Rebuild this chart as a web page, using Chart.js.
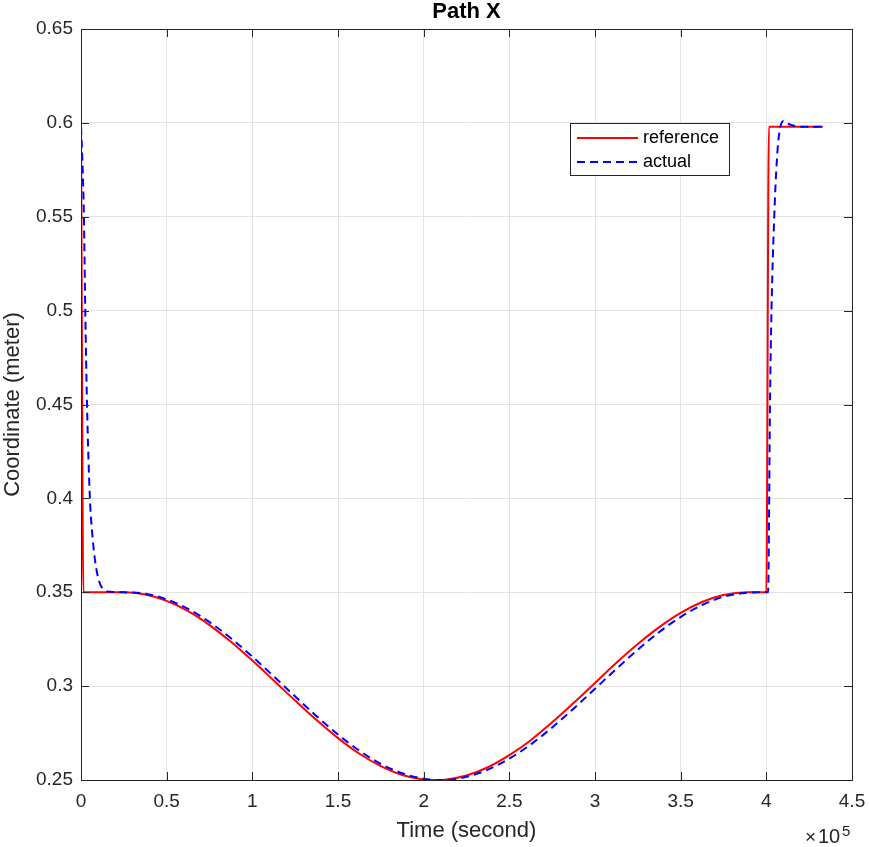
<!DOCTYPE html>
<html>
<head>
<meta charset="utf-8">
<title>Path X</title>
<script src="https://cdn.jsdelivr.net/npm/chart.js@4.4.1/dist/chart.umd.min.js"></script>
<style>
  html, body { margin: 0; padding: 0; background: #fff; }
  #wrap { width: 869px; height: 847px; position: relative; }
</style>
</head>
<body>
<div id="wrap"><canvas id="pathChart"></canvas></div>
<script>
// Reference path (time in seconds, x coordinate in meters)
const refTime = [0, 1400, 15000, 25000, 37500, 50000, 62500, 75000, 87500, 100000,
    112500, 125000, 137500, 150000, 162500, 175000, 187500, 200000, 207000, 212500,
    225000, 237500, 250000, 262500, 275000, 287500, 300000, 312500, 325000, 337500,
    350000, 362500, 375000, 389000, 400000, 401500, 433000];
const refValue = [0.598, 0.35, 0.35, 0.35, 0.3488, 0.3454, 0.3399, 0.3325, 0.3236, 0.3136,
    0.3030, 0.2923, 0.2819, 0.2723, 0.2640, 0.2574, 0.2527, 0.2503, 0.25, 0.2502,
    0.2524, 0.2568, 0.2632, 0.2712, 0.2807, 0.2910, 0.3017, 0.3124, 0.3224, 0.3314,
    0.3390, 0.3448, 0.3485, 0.35, 0.35, 0.598, 0.598];

// Actual path followed
const actTime = [0, 800, 1700, 2500, 3500, 5200, 6400, 8200, 10500, 14000,
    18000, 25000, 37500, 50000, 62500, 75000, 87500, 100000, 112500, 125000,
    137500, 150000, 162500, 175000, 187500, 200000, 210000, 212500, 225000, 237500,
    250000, 262500, 275000, 287500, 300000, 312500, 325000, 337500, 350000, 362500,
    375000, 387500, 400000, 401000, 402200, 403000, 405000, 406500, 408000, 410000,
    414000, 420000, 433000];
const actValue = [0.598, 0.58, 0.55, 0.5, 0.45, 0.4, 0.383, 0.367, 0.356, 0.351,
    0.3502, 0.35, 0.3492, 0.3462, 0.3411, 0.3341, 0.3255, 0.3157, 0.3052, 0.2945,
    0.2840, 0.2742, 0.2656, 0.2586, 0.2536, 0.2507, 0.25, 0.25, 0.2517, 0.2555,
    0.2614, 0.2689, 0.2780, 0.2880, 0.2986, 0.3092, 0.3194, 0.3288, 0.3368, 0.3432,
    0.3476, 0.3496, 0.35, 0.35, 0.455, 0.5, 0.559, 0.585, 0.597, 0.601,
    0.599, 0.598, 0.598];

// Axis ticks
const xTicks = [0, 50000, 100000, 150000, 200000, 250000, 300000, 350000, 400000, 450000];
const xTickLabels = ['0', '0.5', '1', '1.5', '2', '2.5', '3', '3.5', '4', '4.5'];
const yTicks = [0.25, 0.3, 0.35, 0.4, 0.45, 0.5, 0.55, 0.6, 0.65];
const yTickLabels = ['0.25', '0.3', '0.35', '0.4', '0.45', '0.5', '0.55', '0.6', '0.65'];

const FONT = "'Liberation Sans', Arial, Helvetica, sans-serif";
const AXIS_COLOR = '#262626';
const GRID_COLOR = '#e3e3e3';

function toPoints(times, values) {
    return times.map((t, i) => ({ x: t, y: values[i] }));
}

// Box, inside tick marks, title, legend and exponent label
const matlabAxes = {
    id: 'matlabAxes',
    afterDraw(chart) {
        const ctx = chart.ctx;
        const area = chart.chartArea;
        const xs = chart.scales.x;
        const ys = chart.scales.y;
        const tickLen = 8;

        ctx.save();
        ctx.strokeStyle = AXIS_COLOR;
        ctx.lineWidth = 1;
        ctx.beginPath();
        xTicks.forEach(v => {
            const px = Math.round(xs.getPixelForValue(v)) + 0.5;
            ctx.moveTo(px, area.bottom); ctx.lineTo(px, area.bottom - tickLen);
            ctx.moveTo(px, area.top); ctx.lineTo(px, area.top + tickLen);
        });
        yTicks.forEach(v => {
            const py = Math.round(ys.getPixelForValue(v)) + 0.5;
            ctx.moveTo(area.left, py); ctx.lineTo(area.left + tickLen, py);
            ctx.moveTo(area.right, py); ctx.lineTo(area.right - tickLen, py);
        });
        ctx.stroke();
        ctx.strokeRect(Math.round(area.left) + 0.5, Math.round(area.top) + 0.5,
            Math.round(area.right - area.left), Math.round(area.bottom - area.top));

        // title
        ctx.fillStyle = '#000';
        ctx.font = 'bold 22px ' + FONT;
        ctx.textAlign = 'center';
        ctx.textBaseline = 'middle';
        ctx.fillText('Path X', (area.left + area.right) / 2, 12);

        // exponent under the x axis
        ctx.fillStyle = AXIS_COLOR;
        ctx.textAlign = 'left';
        ctx.textBaseline = 'alphabetic';
        ctx.font = '19px ' + FONT;
        ctx.fillText('\u00d7', area.right - 47, 843);
        ctx.font = '20px ' + FONT;
        ctx.fillText('10', area.right - 34, 843);
        ctx.font = '15px ' + FONT;
        ctx.fillText('5', area.right - 10, 836);

        // legend
        const lx = 570, ly = 123, lw = 159, lh = 52;
        ctx.fillStyle = '#fff';
        ctx.fillRect(lx, ly, lw, lh);
        ctx.strokeStyle = AXIS_COLOR;
        ctx.strokeRect(lx + 0.5, ly + 0.5, lw, lh);
        chart.data.datasets.forEach((ds, i) => {
            const rowY = ly + 15 + i * 24;
            ctx.strokeStyle = ds.borderColor;
            ctx.lineWidth = 2;
            ctx.setLineDash(ds.borderDash || []);
            ctx.beginPath();
            ctx.moveTo(lx + 7, rowY);
            ctx.lineTo(lx + 68, rowY);
            ctx.stroke();
            ctx.setLineDash([]);
            ctx.fillStyle = '#000';
            ctx.font = '18px ' + FONT;
            ctx.textBaseline = 'middle';
            ctx.fillText(ds.label, lx + 73, rowY);
        });
        ctx.restore();
    }
};

new Chart(document.getElementById('pathChart'), {
    type: 'line',
    data: {
        datasets: [{
            label: 'reference',
            data: toPoints(refTime, refValue),
            borderColor: '#ff0000',
            borderWidth: 2,
            pointRadius: 0,
            cubicInterpolationMode: 'monotone',
            order: 1
        }, {
            label: 'actual',
            data: toPoints(actTime, actValue),
            borderColor: '#0000ff',
            borderWidth: 2,
            borderDash: [8, 5],
            pointRadius: 0,
            cubicInterpolationMode: 'monotone',
            order: 0
        }]
    },
    options: {
        responsive: true,
        maintainAspectRatio: false,
        animation: false,
        layout: { padding: { top: 29, right: 17, left: 0, bottom: 0 } },
        plugins: {
            legend: { display: false },
            title: { display: false },
            tooltip: { enabled: false }
        },
        scales: {
            x: {
                type: 'linear',
                min: 0,
                max: 450000,
                afterBuildTicks: axis => { axis.ticks = xTicks.map(v => ({ value: v })); },
                afterFit: axis => {
                    axis.height = 67;
                    axis.paddingLeft = 0;
                    axis.paddingRight = 0;
                },
                ticks: {
                    autoSkip: false,
                    maxRotation: 0,
                    padding: 10,
                    color: AXIS_COLOR,
                    font: { family: FONT, size: 19 },
                    callback: (v, i) => xTickLabels[i]
                },
                grid: { color: GRID_COLOR, drawTicks: false },
                border: { display: false },
                title: {
                    display: true,
                    text: 'Time (second)',
                    color: AXIS_COLOR,
                    font: { family: FONT, size: 22 },
                    padding: { top: 0, bottom: 3 }
                }
            },
            y: {
                type: 'linear',
                min: 0.25,
                max: 0.65,
                afterBuildTicks: axis => { axis.ticks = yTicks.map(v => ({ value: v })); },
                afterFit: axis => {
                    axis.width = 81;
                    axis.paddingTop = 0;
                    axis.paddingBottom = 0;
                },
                ticks: {
                    autoSkip: false,
                    padding: 8,
                    color: AXIS_COLOR,
                    font: { family: FONT, size: 19 },
                    callback: (v, i) => yTickLabels[i]
                },
                grid: { color: GRID_COLOR, drawTicks: false },
                border: { display: false },
                title: {
                    display: true,
                    text: 'Coordinate (meter)',
                    color: AXIS_COLOR,
                    font: { family: FONT, size: 22 },
                    padding: { top: 0, bottom: 0 }
                }
            }
        }
    },
    plugins: [matlabAxes]
});
</script>
</body>
</html>
